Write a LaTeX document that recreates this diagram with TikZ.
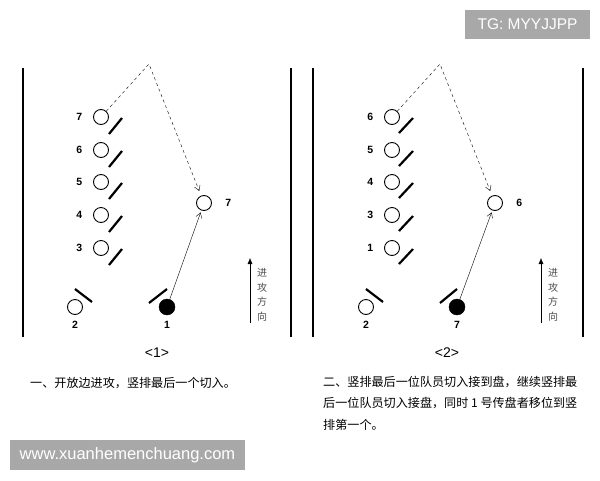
\documentclass[tikz,border=0pt]{standalone}
\usepackage{fontspec}
\setsansfont{Liberation Sans}
\newfontfamily\cjk{Noto Sans CJK SC}
\usetikzlibrary{arrows.meta}

\begin{document}
\begin{tikzpicture}[x=1pt, y=-1pt,
    player/.style={circle, draw=black, fill=white, line width=0.9pt, minimum size=15pt, inner sep=0pt},
    ball/.style={circle, draw=black, fill=black, minimum size=16pt, inner sep=0pt},
    num/.style={font=\sffamily\bfseries\fontsize{10.5}{12}\selectfont},
    bar/.style={line width=2.2pt},
    field/.style={line width=1.3pt},
    note/.style={font=\cjk\fontsize{12.1}{21.5}\selectfont, inner sep=0pt, align=left},
    dirtext/.style={font=\cjk\fontsize{10}{14.5}\selectfont, text=black!70, align=center, inner sep=0pt},
    tag/.style={fill=black!34, text=white, font=\sffamily\fontsize{15.5}{17}\selectfont, inner sep=0pt}]
    \useasboundingbox (0,0) rectangle (600,480);

    % panel 1
    \coordinate (l1top) at (23, 68);
    \coordinate (l1bot) at (23, 337);
    \coordinate (r1top) at (291, 68);
    \coordinate (r1bot) at (291, 337);
    \node[player, label={[num, label distance=7.3pt]left:7}] (a7) at (101, 117) {};
    \node[player, label={[num, label distance=7.3pt]left:6}] (a6) at (101, 150) {};
    \node[player, label={[num, label distance=7.3pt]left:5}] (a5) at (101, 182) {};
    \node[player, label={[num, label distance=7.3pt]left:4}] (a4) at (101, 215) {};
    \node[player, label={[num, label distance=7.3pt]left:3}] (a3) at (101, 248) {};
    \node[player, label={[num, label distance=10pt]right:7}] (at7) at (204, 203) {};
    \node[player, label={[num, label distance=3pt]below:2}] (a2) at (75, 307) {};
    \node[ball, label={[num, label distance=2.5pt]below:1}] (a1) at (167, 307) {};
    \coordinate (apexa) at (149, 64);
    \coordinate (dira0) at (250, 323);
    \coordinate (dira1) at (250, 258);
    \node[dirtext] (dirlabela) at (262, 295) {进\\攻\\方\\向};
    \node[font=\sffamily\fontsize{14}{16}\selectfont] (capa) at (157, 353) {<1>};
    \node[note, anchor=west] (notea) at (30, 383) {一、开放边进攻，竖排最后一个切入。};

    \draw[field] (l1top) -- (l1bot);
    \draw[field] (r1top) -- (r1bot);
    \draw[bar] ([shift={(8,17)}]a7.center) -- ++(13,-16);
    \draw[bar] ([shift={(8,17)}]a6.center) -- ++(13,-16);
    \draw[bar] ([shift={(8,17)}]a5.center) -- ++(13,-16);
    \draw[bar] ([shift={(8,17)}]a4.center) -- ++(13,-16);
    \draw[bar] ([shift={(8,17)}]a3.center) -- ++(13,-16);
    \draw[bar] ([shift={(0,-18)}]a2.center) -- ++(17,13);
    \draw[bar] ([shift={(-18,-4)}]a1.center) -- ++(18,-14);
    \draw[dashed, -{Straight Barb[length=5pt, width=6pt]}, shorten >=5pt] (a7) -- (apexa) -- (at7);
    \draw[-{Straight Barb[length=5pt, width=6pt]}, shorten >=2pt] (a1) -- (at7);
    \draw[-{Latex[length=6pt, width=5pt]}] (dira0) -- (dira1);

    % panel 2
    \coordinate (l2top) at (313, 68);
    \coordinate (l2bot) at (313, 337);
    \coordinate (r2top) at (583, 68);
    \coordinate (r2bot) at (583, 337);
    \node[player, label={[num, label distance=7.3pt]left:6}] (b6) at (392, 117) {};
    \node[player, label={[num, label distance=7.3pt]left:5}] (b5) at (392, 150) {};
    \node[player, label={[num, label distance=7.3pt]left:4}] (b4) at (392, 182) {};
    \node[player, label={[num, label distance=7.3pt]left:3}] (b3) at (392, 215) {};
    \node[player, label={[num, label distance=7.3pt]left:1}] (b1) at (392, 248) {};
    \node[player, label={[num, label distance=10pt]right:6}] (bt6) at (495, 203) {};
    \node[player, label={[num, label distance=3pt]below:2}] (b2) at (366, 307) {};
    \node[ball, label={[num, label distance=2.5pt]below:7}] (b7) at (457, 307) {};
    \coordinate (apexb) at (440, 64);
    \coordinate (dirb0) at (541, 323);
    \coordinate (dirb1) at (541, 258);
    \node[dirtext] (dirlabelb) at (553, 295) {进\\攻\\方\\向};
    \node[font=\sffamily\fontsize{14}{16}\selectfont] (capb) at (447, 353) {<2>};
    \node[note, anchor=north west] (noteb) at (323, 376) {二、竖排最后一位队员切入接到盘，继续竖排最\\后一位队员切入接盘，同时 1 号传盘者移位到竖\\排第一个。};

    \draw[field] (l2top) -- (l2bot);
    \draw[field] (r2top) -- (r2bot);
    \draw[bar] ([shift={(7,16)}]b6.center) -- ++(14,-15);
    \draw[bar] ([shift={(7,16)}]b5.center) -- ++(14,-15);
    \draw[bar] ([shift={(7,16)}]b4.center) -- ++(14,-15);
    \draw[bar] ([shift={(7,16)}]b3.center) -- ++(14,-15);
    \draw[bar] ([shift={(7,16)}]b1.center) -- ++(14,-15);
    \draw[bar] ([shift={(0,-18)}]b2.center) -- ++(17,13);
    \draw[bar] ([shift={(-17,-4)}]b7.center) -- ++(17,-14);
    \draw[dashed, -{Straight Barb[length=5pt, width=6pt]}, shorten >=5pt] (b6) -- (apexb) -- (bt6);
    \draw[-{Straight Barb[length=5pt, width=6pt]}, shorten >=2pt] (b7) -- (bt6);
    \draw[-{Latex[length=6pt, width=5pt]}] (dirb0) -- (dirb1);

    % marks
    \node[tag, minimum width=125pt, minimum height=29pt] (tg) at (527.5, 24.5) {TG: MYYJJPP};
    \node[tag, minimum width=235pt, minimum height=30pt, font=\sffamily\fontsize{16.5}{18}\selectfont] (site) at (127.5, 455) {www.xuanhemenchuang.com};
\end{tikzpicture}
\end{document}
